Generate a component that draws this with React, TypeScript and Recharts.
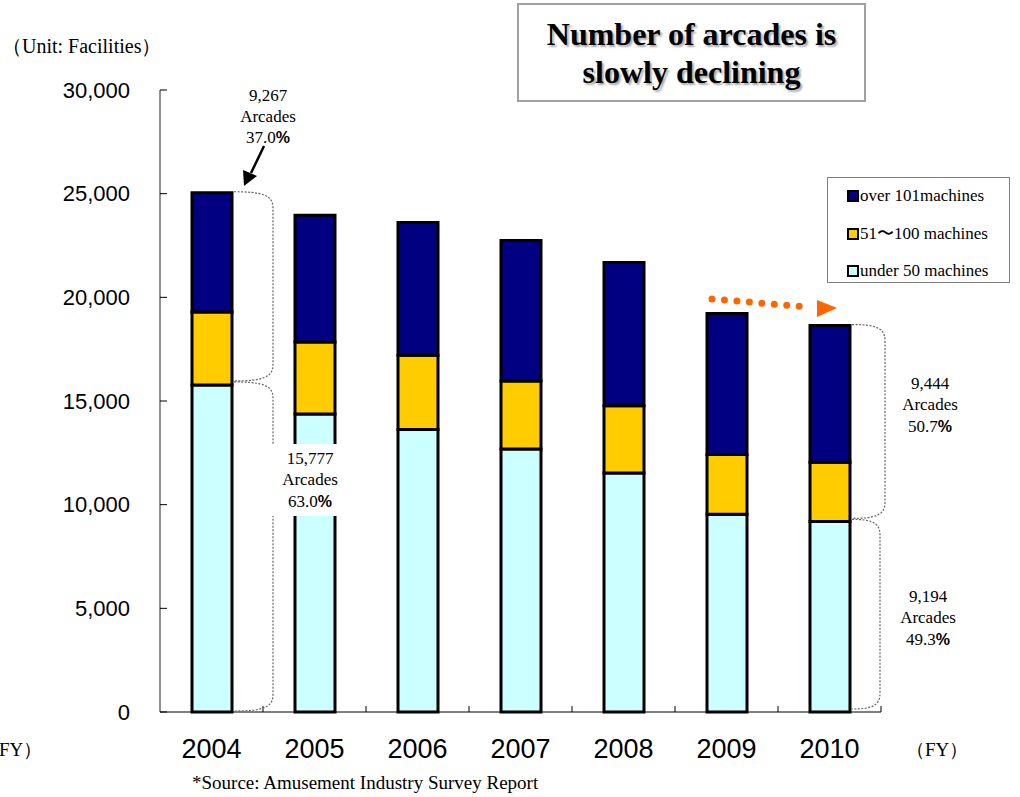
import React from 'react';
import { BarChart, Bar, XAxis, YAxis, Legend } from 'recharts';

// data (facilities per year)
const years = ['2004', '2005', '2006', '2007', '2008', '2009', '2010'];
const under50 = [15777, 14370, 13630, 12690, 11530, 9540, 9194];
const mid51to100 = [3520, 3480, 3580, 3280, 3240, 2880, 2850];
const over101 = [5747, 6110, 6400, 6770, 6910, 6800, 6594];
const yTicks = [0, 5000, 10000, 15000, 20000, 25000, 30000];

const series = [
  { key: 'under50', name: 'under 50 machines', color: '#CCFFFF' },
  { key: 'mid', name: '51\u301C100 machines', color: '#FFCC00' },
  { key: 'over', name: 'over 101machines', color: '#000080' },
];

const data = years.map((y, i) => ({
  year: y,
  under50: under50[i],
  mid: mid51to100[i],
  over: over101[i],
}));

const W = 1020;
const H = 797;
const X_H = 30;
const margin = { top: 90, right: 139, bottom: 55, left: 0 };
const Y_W = 160;
const Y_MAX = 30000;
const BAR = 40;
const plotLeft = margin.left + Y_W;
const plotW = W - margin.right - plotLeft;
const plotH = H - margin.top - margin.bottom - X_H;
const band = plotW / years.length;

const serif = '"Liberation Serif", "Times New Roman", serif';
const sans = '"Liberation Sans", Arial, sans-serif';

const yPos = (v: number) => margin.top + plotH * (1 - v / Y_MAX);
const barRight = (i: number) => plotLeft + (i + 0.5) * band + BAR / 2 + 1.5;

function YTick(props: any) {
  const { x, y, payload } = props;
  return (
    <g>
      <line x1={x} x2={x + 7} y1={y} y2={y} stroke="#000" />
      <text x={x - 30} y={y} textAnchor="end" dominantBaseline="central" fontFamily={sans} fontSize={22} fill="#000">
        {Number(payload.value).toLocaleString('en-US')}
      </text>
    </g>
  );
}

function LegendBox() {
  const items = [...series].reverse();
  return (
    <div style={{ width: 183, height: 106, border: '1px solid #808080', boxSizing: 'border-box', background: '#fff', position: 'relative' }}>
      {items.map((s, i) => (
        <div key={s.key} style={{ position: 'absolute', left: 19, top: 8 + i * 37.5, height: 20, display: 'flex', alignItems: 'center', fontFamily: serif, fontSize: 17, color: '#000', whiteSpace: 'nowrap' }}>
          <span style={{ display: 'inline-block', width: 8, height: 8, border: '2px solid #000', background: s.color, marginRight: 1 }} />
          {s.name}
        </div>
      ))}
    </div>
  );
}

// dotted curly bracket from the bar edge
function brace(x0: number, yTop: number, yBot: number, bulge: number) {
  const xb = x0 + bulge;
  return `M${x0},${yTop} C${x0 + bulge * 0.7},${yTop} ${xb},${yTop + 3} ${xb},${yTop + 16} L${xb},${yBot - 16} C${xb},${yBot - 3} ${x0 + bulge * 0.7},${yBot} ${x0},${yBot}`;
}

function Note({ x, y, lines, pct }: { x: number; y: number; lines: string[]; pct: string }) {
  return (
    <g>
      <rect x={x - 38} y={y - 14} width={76} height={72} fill="#fff" />
      {lines.map((t, i) => (
        <text key={i} x={x} y={y + i * 21.5} textAnchor="middle" dominantBaseline="central" fontFamily={serif} fontSize={17} fill="#000">{t}</text>
      ))}
      <text x={x} y={y + 43} textAnchor="middle" dominantBaseline="central" fontFamily={serif} fontSize={17} fill="#000">
        {pct}<tspan fontFamily={sans} fontWeight="bold" fontSize={16}>%</tspan>
      </text>
    </g>
  );
}

function Annotations() {
  const last = years.length - 1;
  const tot0 = under50[0] + mid51to100[0] + over101[0];
  const totL = under50[last] + mid51to100[last] + over101[last];
  const dot = { stroke: '#666', strokeWidth: 1.2, strokeDasharray: '2 1.5', fill: 'none' };
  const axisY = yPos(0);
  return (
    <svg width={W} height={H} style={{ position: 'absolute', left: 0, top: 0, pointerEvents: 'none' }}>
      {/* category boundary ticks on the x axis */}
      {years.map((_, i) => (
        <line key={i} x1={plotLeft + (i + 1) * band} x2={plotLeft + (i + 1) * band} y1={axisY} y2={axisY - 6} stroke="#000" />
      ))}

      <path d={brace(barRight(0) + 1, yPos(tot0) - 1, yPos(under50[0]) - 4, 39)} {...dot} />
      <path d={brace(barRight(0) + 1, yPos(under50[0]) - 3, yPos(0) - 1, 39)} {...dot} />
      <path d={brace(barRight(last) + 1, yPos(totL) - 1, yPos(under50[last]) - 3, 33)} {...dot} />
      <path d={brace(barRight(last) + 1, yPos(under50[last]) - 2, yPos(0) - 3, 28)} {...dot} />

      {/* 2004 upper note with arrow */}
      {['9,267', 'Arcades'].map((t, i) => (
        <text key={t} x={268} y={95 + i * 21} textAnchor="middle" dominantBaseline="central" fontFamily={serif} fontSize={17} fill="#000">{t}</text>
      ))}
      <text x={268} y={137} textAnchor="middle" dominantBaseline="central" fontFamily={serif} fontSize={17} fill="#000">
        37.0<tspan fontFamily={sans} fontWeight="bold" fontSize={16}>%</tspan>
      </text>
      <line x1={264} y1={146} x2={251} y2={173} stroke="#000" strokeWidth={2.5} />
      <polygon points="244,186 243,170 257,176" fill="#000" />

      <Note x={310} y={458} lines={['15,777', 'Arcades']} pct="63.0" />
      <Note x={930} y={383} lines={['9,444', 'Arcades']} pct="50.7" />
      <Note x={928} y={596} lines={['9,194', 'Arcades']} pct="49.3" />

      {/* orange trend arrow */}
      <line x1={712} y1={299} x2={808} y2={307} stroke="#FF6600" strokeWidth={7} strokeDasharray="0 12.5" strokeLinecap="round" />
      <polygon points="817,300 837,308 817,317" fill="#FF6600" />
    </svg>
  );
}

export default function App() {
  return (
    <div style={{ position: 'absolute', left: 0, top: 0, width: W, height: H, background: '#fff' }}>
      <BarChart width={W} height={H} data={data} margin={margin} barSize={BAR}>
        <XAxis dataKey="year" height={X_H} axisLine={{ stroke: '#000' }} tickLine={false} tickSize={0} tickMargin={27} interval={0}
          tick={{ fontFamily: sans, fontSize: 27, fill: '#000' }} />
        <YAxis width={Y_W} domain={[0, Y_MAX]} ticks={yTicks} interval={0} axisLine={{ stroke: '#222' }} tickLine={false} tickSize={0} tickMargin={0} tick={<YTick />} />
        <Legend layout="vertical" align="center" verticalAlign="middle" content={<LegendBox />}
          wrapperStyle={{ left: 827, top: 177, width: 183, height: 106 }} />
        {series.map((s) => (
          <Bar key={s.key} dataKey={s.key} name={s.name} stackId="a" fill={s.color} stroke="#000" strokeWidth={3} isAnimationActive={false} />
        ))}
      </BarChart>
      <Annotations />

      <div style={{ position: 'absolute', left: 517, top: 3, width: 349, height: 99, border: '2px solid #a0a0a0', boxSizing: 'border-box', display: 'flex', alignItems: 'center', justifyContent: 'center', textAlign: 'center', fontFamily: serif, fontWeight: 'bold', fontSize: 32, lineHeight: '38px', color: '#000', textShadow: '2px 2px 2px rgba(0,0,0,0.35)' }}>
        Number of arcades is<br />slowly declining
      </div>
      <div style={{ position: 'absolute', left: 2, top: 33, fontFamily: serif, fontSize: 20, color: '#000', whiteSpace: 'nowrap' }}>（Unit: Facilities）</div>
      <div style={{ position: 'absolute', left: -20, top: 737, fontFamily: serif, fontSize: 19, color: '#000', whiteSpace: 'nowrap' }}>（FY）</div>
      <div style={{ position: 'absolute', left: 906, top: 737, fontFamily: serif, fontSize: 19, color: '#000', whiteSpace: 'nowrap' }}>（FY）</div>
      <div style={{ position: 'absolute', left: 192, top: 772, fontFamily: serif, fontSize: 19, color: '#000', whiteSpace: 'nowrap' }}>*Source: Amusement Industry Survey Report</div>
    </div>
  );
}
